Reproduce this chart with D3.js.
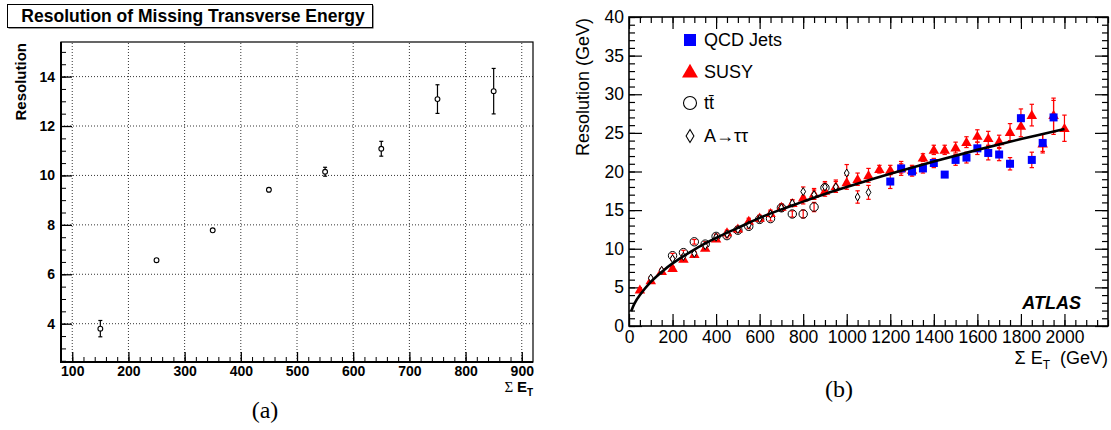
<!DOCTYPE html>
<html>
<head>
<meta charset="utf-8">
<script src="https://cdn.jsdelivr.net/npm/d3@7"></script>
<style>
  body { margin: 0; background: #fff; }
  svg { display: block; font-family: "Liberation Sans", Arial, sans-serif; }
</style>
</head>
<body>
<div id="chart"></div>
<script>
// ---- panel (a): resolution vs sum Et
const aEt  = [150, 250, 350, 450, 550, 650, 750, 850];
const aRes = [3.80, 6.57, 7.78, 9.42, 10.15, 11.08, 13.09, 13.41];
const aErr = [0.33, 0.06, 0.05, 0.08, 0.18, 0.30, 0.58, 0.92];
const aXTicks = [100, 200, 300, 400, 500, 600, 700, 800, 900];
const aYTicks = [4, 6, 8, 10, 12, 14];

// ---- panel (b): ATLAS samples
const qcdEt  = [1200, 1250, 1300, 1350, 1400, 1450, 1500, 1550, 1600, 1650, 1700, 1750, 1800, 1850, 1900, 1950];
const qcdRes = [18.7, 20.4, 20.0, 20.4, 21.1, 19.6, 21.5, 21.8, 23.0, 22.4, 22.2, 21.0, 26.9, 21.5, 23.7, 27.0];
const qcdErr = [0.9, 0.9, 0.6, 0.6, 0.6, 0.3, 0.7, 0.7, 0.8, 0.9, 0.8, 0.8, 1.2, 1.0, 1.1, 2.2];

const susyEt  = [50, 100, 150, 200, 250, 300, 350, 400, 450, 500, 550, 600, 650, 700, 750, 800, 850, 900, 950, 1000,
                 1050, 1100, 1150, 1200, 1250, 1300, 1350, 1400, 1450, 1500, 1550, 1600, 1650, 1700, 1750, 1800, 1850, 1900, 1950, 2000];
const susyRes = [4.7, 5.9, 7.1, 7.5, 8.7, 9.3, 10.1, 11.3, 12.1, 12.6, 13.6, 14.0, 14.6, 15.4, 15.9, 16.6, 17.1, 17.5, 18.1, 18.6,
                 19.0, 19.5, 20.3, 20.2, 20.4, 20.2, 21.8, 22.8, 22.8, 23.1, 23.8, 24.6, 24.3, 23.9, 25.1, 25.9, 27.3, 23.6, 27.3, 25.6];
const susyErr = [0.2, 0.2, 0.2, 0.2, 0.25, 0.25, 0.3, 0.3, 0.3, 0.3, 0.35, 0.35, 0.4, 0.4, 0.45, 0.8, 0.7, 0.7, 0.8, 0.9,
                 0.8, 0.9, 0.5, 0.6, 0.6, 0.6, 0.5, 0.6, 0.6, 0.7, 0.7, 0.8, 0.9, 0.8, 1.1, 1.4, 1.4, 1.2, 2.2, 1.7];

const ttEt  = [200, 250, 300, 350, 400, 450, 500, 550, 600, 650, 700, 750, 800, 850, 900];
const ttRes = [9.1, 9.5, 10.9, 10.6, 11.6, 11.7, 12.4, 12.9, 13.8, 13.9, 15.3, 14.5, 14.5, 15.4, 17.9];
const ttErr = [0.3, 0.3, 0.3, 0.3, 0.3, 0.3, 0.3, 0.3, 0.3, 0.3, 0.4, 0.4, 0.5, 0.6, 0.6];

const attEt  = [100, 150, 200, 250, 300, 350, 400, 450, 500, 550, 600, 650, 700, 750, 800, 850, 900, 950, 1000, 1050, 1100];
const attRes = [6.2, 7.2, 8.7, 9.0, 9.4, 10.4, 11.5, 11.9, 12.5, 13.1, 13.9, 14.5, 15.3, 15.9, 17.4, 17.0, 18.0, 18.0, 19.8, 16.7, 17.3];
const attErr = [0.2, 0.2, 0.2, 0.2, 0.25, 0.25, 0.3, 0.3, 0.3, 0.3, 0.3, 0.35, 0.35, 0.4, 0.6, 0.6, 0.7, 0.7, 1.1, 0.8, 0.9];

// fitted curve
const fitEt  = [10, 25, 50, 100, 150, 200, 300, 400, 500, 600, 700, 800, 900, 1000, 1200, 1400, 1600, 1800, 2000];
const fitRes = [1.9, 2.9, 4.0, 5.7, 7.0, 8.1, 9.9, 11.4, 12.7, 14.0, 15.1, 16.1, 17.1, 18.0, 19.7, 21.3, 22.8, 24.2, 25.5];

const bXTicks = [0, 200, 400, 600, 800, 1000, 1200, 1400, 1600, 1800, 2000];
const bYTicks = [0, 5, 10, 15, 20, 25, 30, 35, 40];

const legendNames = ["QCD Jets", "SUSY", "tt\u0304", "A\u2192\u03c4\u03c4"];

const svg = d3.select("#chart").append("svg")
    .attr("width", 1111)
    .attr("height", 430);

function zip(xs, ys, es) { return xs.map((x, i) => ({ x: x, y: ys[i], e: es ? es[i] : 0 })); }

// =========================== panel (a)
const xa = d3.scaleLinear().domain([80, 920]).range([61, 533]);
const ya = d3.scaleLinear().domain([2.45, 15.4]).range([362, 42]);
const ga = svg.append("g");

// dotted grid
ga.selectAll(".gridx").data(aXTicks).enter().append("line")
    .attr("x1", d => xa(d)).attr("x2", d => xa(d))
    .attr("y1", ya.range()[0]).attr("y2", ya.range()[1])
    .attr("stroke", "#000").attr("stroke-width", 0.8).attr("stroke-dasharray", "1,2");
ga.selectAll(".gridy").data(aYTicks).enter().append("line")
    .attr("x1", xa.range()[0]).attr("x2", xa.range()[1])
    .attr("y1", d => ya(d)).attr("y2", d => ya(d))
    .attr("stroke", "#000").attr("stroke-width", 0.8).attr("stroke-dasharray", "1,2");

// ticks (inside, ROOT style)
const aBottom = ya.range()[0], aLeft = xa.range()[0];
ga.append("g").attr("transform", `translate(0,${aBottom})`)
    .call(d3.axisBottom(xa).tickValues(d3.range(100, 901, 20)).tickSize(-5).tickFormat(""))
    .call(g => g.select(".domain").remove());
ga.append("g").attr("transform", `translate(${aLeft},0)`)
    .call(d3.axisLeft(ya).tickValues(d3.range(5, 31).map(d => d / 2)).tickSize(-5).tickFormat(""))
    .call(g => g.select(".domain").remove());

const axA = ga.append("g").attr("transform", `translate(0,${aBottom})`)
    .call(d3.axisBottom(xa).tickValues(aXTicks).tickSize(-10).tickPadding(4).tickFormat(d3.format("d")));
const ayA = ga.append("g").attr("transform", `translate(${aLeft},0)`)
    .call(d3.axisLeft(ya).tickValues(aYTicks).tickSize(-11).tickPadding(6));
[axA, ayA].forEach(g => {
    g.select(".domain").remove();
    g.selectAll("line").attr("stroke-width", 1.3);
    g.selectAll("text").attr("fill", "#000")
        .style("font-family", "'Liberation Sans', Arial, sans-serif")
        .style("font-size", "14px").style("font-weight", "bold");
});

// frame
ga.append("rect")
    .attr("x", xa.range()[0]).attr("y", ya.range()[1])
    .attr("width", xa.range()[1] - xa.range()[0]).attr("height", ya.range()[0] - ya.range()[1])
    .attr("fill", "none").attr("stroke", "#000").attr("stroke-width", 1.2);
ga.append("path")
    .attr("d", `M${aLeft},${ya.range()[1]}V${aBottom}H${xa.range()[1]}`)
    .attr("fill", "none").attr("stroke", "#000").attr("stroke-width", 2);

// error bars + markers
const aPts = zip(aEt, aRes, aErr);
const aErrG = ga.selectAll(".err").data(aPts).enter().append("g");
aErrG.append("line")
    .attr("x1", d => xa(d.x)).attr("x2", d => xa(d.x))
    .attr("y1", d => ya(d.y - d.e)).attr("y2", d => ya(d.y + d.e))
    .attr("stroke", "#000").attr("stroke-width", 1.2);
[-1, 1].forEach(s => {
    aErrG.append("line")
        .attr("x1", d => xa(d.x) - 2).attr("x2", d => xa(d.x) + 2)
        .attr("y1", d => ya(d.y + s * d.e)).attr("y2", d => ya(d.y + s * d.e))
        .attr("stroke", "#000").attr("stroke-width", 1.2);
});
ga.selectAll(".pt").data(aPts).enter().append("circle")
    .attr("cx", d => xa(d.x)).attr("cy", d => ya(d.y)).attr("r", 2.4)
    .attr("fill", "#fff").attr("stroke", "#000").attr("stroke-width", 1.1);

// titles
ga.append("rect").attr("x", 8.5).attr("y", 5.5).attr("width", 365).attr("height", 23).attr("fill", "#333");
ga.append("rect").attr("x", 7.5).attr("y", 4.5).attr("width", 365).attr("height", 23)
    .attr("fill", "#fff").attr("stroke", "#000").attr("stroke-width", 1);
ga.append("text").attr("x", 193).attr("y", 22).attr("text-anchor", "middle")
    .style("font-size", "17.5px").style("font-weight", "bold")
    .text("Resolution of Missing Transverse Energy");

ga.append("text").attr("transform", "translate(26,43) rotate(-90)")
    .attr("text-anchor", "end")
    .style("font-size", "15px").style("font-weight", "bold")
    .text("Resolution");

const aXT = ga.append("text").attr("x", 533).attr("y", 392).attr("text-anchor", "end")
    .style("font-size", "15px").style("font-weight", "bold");
aXT.append("tspan").style("font-weight", "normal").style("font-family", "'Liberation Serif', serif").text("\u03a3 ");
aXT.append("tspan").text("E");
aXT.append("tspan").attr("dy", 4).style("font-size", "10px").text("T");

svg.append("text").attr("x", 265).attr("y", 418).attr("text-anchor", "middle")
    .style("font-family", "'Liberation Serif', 'DejaVu Serif', serif").style("font-size", "24px")
    .text("(a)");

// =========================== panel (b)
const xb = d3.scaleLinear().domain([0, 2200]).range([629, 1108]);
const yb = d3.scaleLinear().domain([0, 40]).range([326, 17]);
const gb = svg.append("g");
const bL = xb.range()[0], bR = xb.range()[1], bB = yb.range()[0], bT = yb.range()[1];

// minor ticks on all four sides
gb.append("g").attr("transform", `translate(0,${bB})`)
    .call(d3.axisBottom(xb).tickValues(d3.range(0, 2201, 50)).tickSize(-6).tickFormat(""));
gb.append("g").attr("transform", `translate(0,${bT})`)
    .call(d3.axisTop(xb).tickValues(d3.range(0, 2201, 50)).tickSize(-6).tickFormat(""));
gb.append("g").attr("transform", `translate(${bL},0)`)
    .call(d3.axisLeft(yb).tickValues(d3.range(0, 41, 1)).tickSize(-6).tickFormat(""));
gb.append("g").attr("transform", `translate(${bR},0)`)
    .call(d3.axisRight(yb).tickValues(d3.range(0, 41, 1)).tickSize(-6).tickFormat(""));
// major ticks
const bxAx = gb.append("g").attr("transform", `translate(0,${bB})`)
    .call(d3.axisBottom(xb).tickValues(bXTicks).tickSize(-12).tickPadding(5).tickFormat(d3.format("d")));
gb.append("g").attr("transform", `translate(0,${bT})`)
    .call(d3.axisTop(xb).tickValues(bXTicks).tickSize(-12).tickFormat(""));
const byAx = gb.append("g").attr("transform", `translate(${bL},0)`)
    .call(d3.axisLeft(yb).tickValues(bYTicks).tickSize(-13).tickPadding(5));
gb.append("g").attr("transform", `translate(${bR},0)`)
    .call(d3.axisRight(yb).tickValues(bYTicks).tickSize(-13).tickFormat(""));
gb.selectAll(".domain").remove();
gb.selectAll(".tick line").attr("stroke", "#000").attr("stroke-width", 1.2);
[bxAx, byAx].forEach(g => g.selectAll("text").attr("fill", "#000")
    .style("font-family", "'Liberation Sans', Arial, sans-serif").style("font-size", "17.5px"));

gb.append("rect").attr("x", bL).attr("y", bT).attr("width", bR - bL).attr("height", bB - bT)
    .attr("fill", "none").attr("stroke", "#000").attr("stroke-width", 1.6);

// error bars (all red)
const red = "#ff0000", blue = "#0000ff";
const allErr = [].concat(zip(attEt, attRes, attErr), zip(ttEt, ttRes, ttErr), zip(susyEt, susyRes, susyErr), zip(qcdEt, qcdRes, qcdErr));
const eb = gb.selectAll(".eb").data(allErr).enter().append("g").attr("stroke", red).attr("stroke-width", 1.2);
eb.append("line")
    .attr("x1", d => xb(d.x)).attr("x2", d => xb(d.x))
    .attr("y1", d => yb(d.y - d.e)).attr("y2", d => yb(d.y + d.e));
[-1, 1].forEach(s => {
    eb.append("line")
        .attr("x1", d => xb(d.x) - 2.2).attr("x2", d => xb(d.x) + 2.2)
        .attr("y1", d => yb(d.y + s * d.e)).attr("y2", d => yb(d.y + s * d.e));
});

const triangle = d3.symbol().type(d3.symbolTriangle).size(48);
const diamond = s => `M0,${-s}L${s * 0.6},0L0,${s}L${-s * 0.6},0Z`;

// open circles (ttbar)
gb.selectAll(".tt").data(zip(ttEt, ttRes)).enter().append("circle")
    .attr("cx", d => xb(d.x)).attr("cy", d => yb(d.y)).attr("r", 4.2)
    .attr("fill", "none").attr("stroke", "#000").attr("stroke-width", 1);
// triangles (SUSY)
gb.selectAll(".susy").data(zip(susyEt, susyRes)).enter().append("path")
    .attr("d", triangle)
    .attr("transform", d => `translate(${xb(d.x)},${yb(d.y) + 0.8})`)
    .attr("fill", red);
// diamonds (A -> tau tau)
gb.selectAll(".att").data(zip(attEt, attRes)).enter().append("path")
    .attr("d", diamond(4))
    .attr("transform", d => `translate(${xb(d.x)},${yb(d.y)})`)
    .attr("fill", "#fff").attr("stroke", "#000").attr("stroke-width", 1);
// squares (QCD)
gb.selectAll(".qcd").data(zip(qcdEt, qcdRes)).enter().append("rect")
    .attr("x", d => xb(d.x) - 4).attr("y", d => yb(d.y) - 4)
    .attr("width", 8).attr("height", 8)
    .attr("fill", blue);

// fit
gb.append("path")
    .datum(zip(fitEt, fitRes))
    .attr("d", d3.line().x(d => xb(d.x)).y(d => yb(d.y)).curve(d3.curveCatmullRom))
    .attr("fill", "none").attr("stroke", "#000").attr("stroke-width", 2.6);

// legend
const legY = [40, 72, 103, 136];
const lg = gb.selectAll(".leg").data(legendNames).enter().append("g")
    .attr("transform", (d, i) => `translate(690,${legY[i]})`);
lg.append("text").attr("x", 14).attr("dy", "0.36em")
    .style("font-size", "18px").text(d => d);
lg.filter((d, i) => i === 0).append("rect").attr("x", -6).attr("y", -6).attr("width", 12).attr("height", 12).attr("fill", blue);
lg.filter((d, i) => i === 1).append("path").attr("d", d3.symbol().type(d3.symbolTriangle).size(110)).attr("transform", "translate(0,1)").attr("fill", red);
lg.filter((d, i) => i === 2).append("circle").attr("r", 6.5).attr("fill", "none").attr("stroke", "#000").attr("stroke-width", 1.1);
lg.filter((d, i) => i === 3).append("path").attr("d", diamond(6.5)).attr("fill", "none").attr("stroke", "#000").attr("stroke-width", 1.1);

gb.append("text").attr("x", 1081).attr("y", 309).attr("text-anchor", "end")
    .style("font-size", "18px").style("font-weight", "bold").style("font-style", "italic")
    .text("ATLAS");

gb.append("text").attr("transform", `translate(589,${bT + 1}) rotate(-90)`)
    .attr("text-anchor", "end").style("font-size", "18px")
    .text("Resolution (GeV)");

const bXT = gb.append("text").attr("x", 1108).attr("y", 364).attr("text-anchor", "end").style("font-size", "18px");
bXT.append("tspan").text("\u03a3 E");
bXT.append("tspan").attr("dy", 5).style("font-size", "12px").text("T");
bXT.append("tspan").attr("dy", -5).text("\u00a0\u00a0(GeV)");

svg.append("text").attr("x", 839).attr("y", 397).attr("text-anchor", "middle")
    .style("font-family", "'Liberation Serif', 'DejaVu Serif', serif").style("font-size", "24px")
    .text("(b)");
</script>
</body>
</html>
